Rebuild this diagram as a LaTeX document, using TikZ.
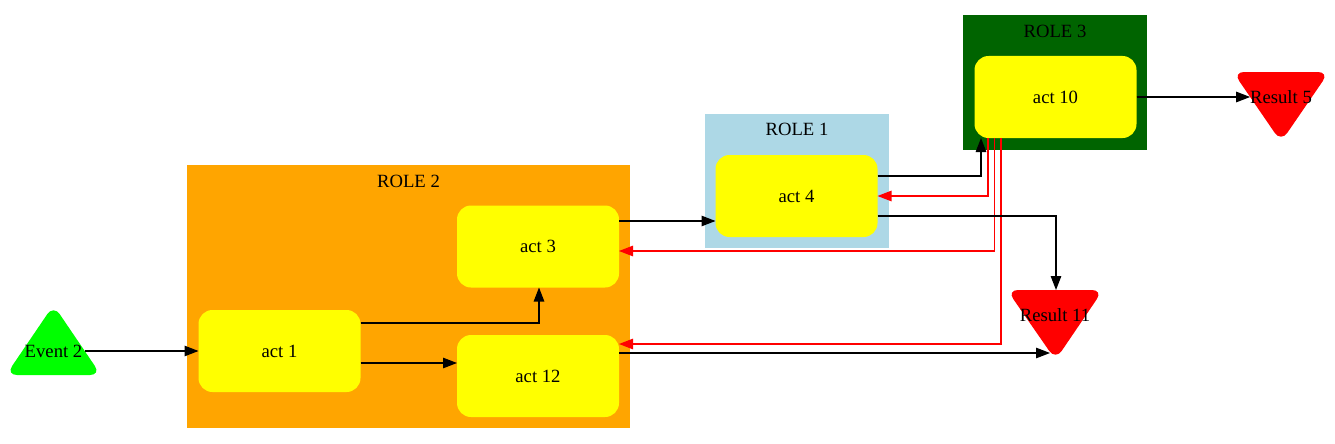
\documentclass[tikz,border=0pt]{standalone}
\usepackage{fontspec}
\setmainfont{Liberation Serif}
\usetikzlibrary{arrows.meta}
\definecolor{gvorange}{HTML}{FFA500}
\definecolor{gvblue}{HTML}{ADD8E6}
\definecolor{gvdkgreen}{HTML}{006400}
\definecolor{gvyellow}{HTML}{FFFF00}
\definecolor{gvgreen}{HTML}{00FF00}
\definecolor{gvred}{HTML}{FF0000}
\tikzset{
  cluster/.style={draw=none,inner sep=0pt,outer sep=0pt},
  actbox/.style={fill=gvyellow,draw=none,rounded corners=14pt,minimum width=162pt,minimum height=82pt,inner sep=0pt,outer sep=0pt},
  lbl/.style={inner sep=0pt,outer sep=0pt},
  tri/.style={rounded corners=11pt,draw=none},
  arr/.style={line width=1.2pt,-{Triangle[length=14pt,width=10.5pt]}},
  rarr/.style={arr,draw=gvred},
}
\begin{document}
\begin{tikzpicture}[x=1pt,y=-1pt,font=\fontsize{18.67}{20}\selectfont]
\useasboundingbox (0,0) rectangle (1335,444);
% clusters
\node[cluster,fill=gvorange,minimum width=443pt,minimum height=263pt] (role2) at (408.5,296.5) {};
\node[lbl] (role2lbl) at (408.5,181) {ROLE 2};
\node[cluster,fill=gvblue,minimum width=184pt,minimum height=134pt] (role1) at (797,181) {};
\node[lbl] (role1lbl) at (797,129) {ROLE 1};
\node[cluster,fill=gvdkgreen,minimum width=184pt,minimum height=135pt] (role3) at (1055,82.5) {};
\node[lbl] (role3lbl) at (1055,31) {ROLE 3};
% activities
\node[actbox] (act1) at (279.5,351) {act 1};
\node[actbox] (act3) at (538,246.5) {act 3};
\node[actbox] (act12) at (538,376) {act 12};
\node[actbox] (act4) at (796.5,196) {act 4};
\node[actbox] (act10) at (1055.5,97) {act 10};
% triangles
\fill[gvgreen,tri] (53.5,305) -- (101,375) -- (6,375) -- cycle;
\node[lbl] (ev2) at (53.5,351) {Event 2};
\fill[gvred,tri] (1007,290) -- (1103,290) -- (1055.5,360) -- cycle;
\node[lbl] (r11) at (1055,315) {Result 11};
\coordinate (r11top) at (1056,290);
\coordinate (r11tip) at (1050,353);
\fill[gvred,tri] (1233,72) -- (1329,72) -- (1281,142) -- cycle;
\node[lbl] (r5) at (1281,97) {Result 5};
% helper coordinates on boxes
\coordinate (a1o1) at ([yshift=28pt]act1.east);
\coordinate (a1o2) at ([yshift=-12pt]act1.east);
\coordinate (a3o) at ([yshift=25.5pt]act3.east);
\coordinate (a3i) at ([yshift=-4.5pt]act3.east);
\coordinate (a12i) at ([yshift=32pt]act12.east);
\coordinate (a12o) at ([yshift=23pt]act12.east);
\coordinate (a4o1) at ([yshift=20pt]act4.east);
\coordinate (a4o2) at ([yshift=-20pt]act4.east);
\coordinate (a10i) at ([xshift=-74.5pt]act10.south);
\coordinate (a10o1) at ([xshift=-67.5pt]act10.south);
\coordinate (a10o2) at ([xshift=-61pt]act10.south);
\coordinate (a10o3) at ([xshift=-54.5pt]act10.south);
% edges
\draw[arr] ([xshift=3pt]ev2.east) -- (act1.west);
\draw[arr] (a1o1) -| ([xshift=1pt]act3.south);
\draw[arr] (a1o2) -- (a1o2 -| act12.west);
\draw[arr] (a3o) -- (a3o -| act4.west);
\draw[arr] (a4o1) -| (a10i);
\draw[rarr] (a10o1) |- (act4.east);
\draw[rarr] (a10o2) |- (a3i);
\draw[rarr] (a10o3) |- (a12i);
\draw[arr] (a4o2) -| (r11top);
\draw[arr] (a12o) -- (r11tip);
\draw[arr] (act10.east) -- (r5.west);
\end{tikzpicture}
\end{document}
